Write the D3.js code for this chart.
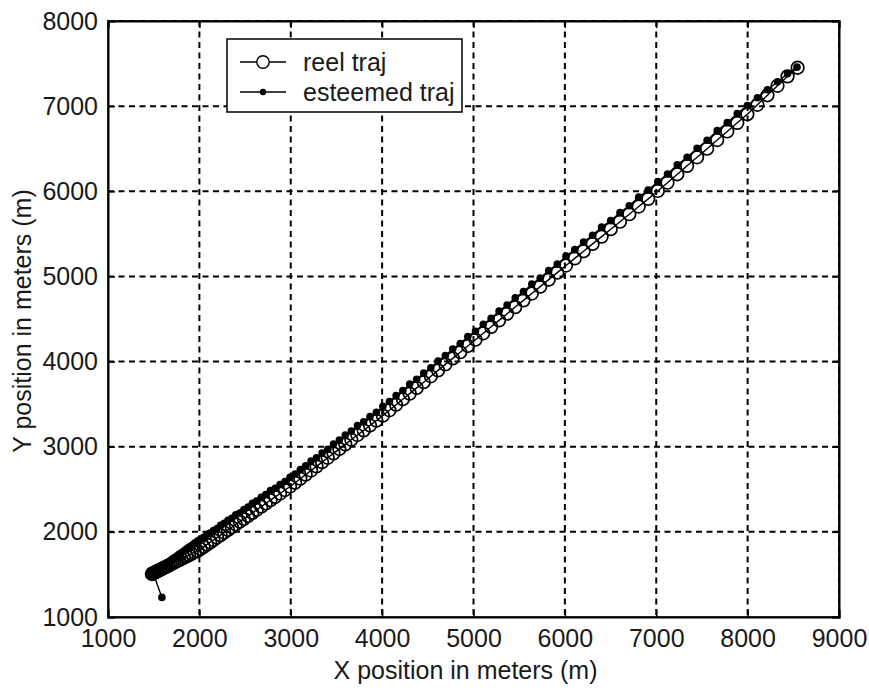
<!DOCTYPE html>
<html>
<head>
<meta charset="utf-8">
<script src="https://cdn.jsdelivr.net/npm/d3@7"></script>
<style>
  html, body { margin: 0; padding: 0; background: #fff; }
  svg { display: block; }
  text { font-family: "Liberation Sans", Arial, sans-serif; fill: #1a1a1a; }
</style>
</head>
<body>
<svg id="chart" width="869" height="691"></svg>
<script>
// Axis ticks
const xTicks = [1000, 2000, 3000, 4000, 5000, 6000, 7000, 8000, 9000];
const yTicks = [1000, 2000, 3000, 4000, 5000, 6000, 7000, 8000];

// Real trajectory (metres)
const reelX = [1480,1488,1497,1507,1518,1530,1543,1557,1572,1588,1605,1623,1642,1662,1683,1705,1728,1752,1777,1803,1830,1858,1887,1917,1948,1980,
  2013,2047,2082,2118,2155,2193,2232,2272,2313,2355,2398,2442,2487,2533,2580,2628,2677,2727,2778,2830,2883,2937,2992,
  3048,3105,3163,3222,3282,3343,3405,3468,3532,3597,3663,3730,3798,3867,3937,
  4008,4080,4153,4227,4302,4378,4455,4533,4612,4692,4773,4855,4938,
  5022,5107,5193,5280,5368,5457,5547,5638,5730,5823,5917,
  6012,6108,6205,6303,6402,6502,6603,6705,6808,6912,
  7017,7123,7230,7338,7447,7557,7667,7777,7887,7997,8107,8217,8327,8437,8547];
const reelY = [1505,1509,1514,1520,1526,1532,1540,1547,1555,1564,1574,1583,1593,1604,1616,1628,1641,1654,1667,1681,1696,1711,1727,1743,1760,1777,
  1798,1823,1850,1877,1904,1933,1962,1992,2023,2054,2087,2120,2153,2188,2223,2259,2296,2333,2372,2411,2450,2491,2532,
  2577,2624,2672,2720,2769,2819,2870,2922,2974,3028,3082,3137,3192,3249,3306,
  3365,3428,3493,3558,3624,3691,3758,3827,3897,3967,4038,4110,4183,
  4257,4332,4408,4484,4562,4640,4719,4799,4880,4962,5045,
  5128,5212,5296,5382,5468,5555,5643,5731,5821,5911,
  6004,6101,6200,6299,6399,6500,6602,6703,6804,6905,7016,7128,7239,7350,7451];

// Estimated trajectory (metres)
const estX = [1590,1500,1507,1518,1530,1543,1557,1572,1588,1605,1623,1642,1662,1683,1705,1728,1752,1777,1803,1830,1858,1887,1917,1948,1980,
  2013,2047,2082,2118,2155,2193,2232,2272,2313,2355,2398,2442,2487,2533,2580,2628,2677,2727,2778,2830,2883,2937,2992,
  3048,3105,3163,3222,3282,3343,3405,3468,3532,3597,3663,3730,3798,3867,3937,
  4008,4080,4153,4227,4302,4378,4455,4533,4612,4692,4773,4855,4938,
  5022,5107,5193,5280,5368,5457,5547,5638,5730,5823,5917,
  6012,6108,6205,6303,6402,6502,6603,6705,6808,6912,
  7017,7123,7230,7338,7447,7557,7667,7777,7887,7997,8107,8217,8327,8437,8540];
const estY = [1230,1500,1526,1534,1544,1554,1565,1577,1588,1602,1615,1631,1646,1662,1680,1698,1716,1735,1755,1776,1798,1821,1843,1868,1892,
  1915,1935,1968,1985,2016,2040,2076,2101,2136,2160,2201,2222,2261,2290,2335,2362,2406,2437,2485,2512,2557,2592,2642,
  2680,2733,2775,2832,2870,2926,2970,3032,3078,3138,3185,3249,3293,3355,3405,
  3476,3531,3602,3660,3736,3791,3865,3926,4007,4070,4147,4212,4295,
  4357,4438,4507,4594,4665,4749,4821,4911,4980,5068,5144,
  5238,5315,5405,5484,5580,5655,5749,5830,5931,6014,
  6113,6203,6312,6399,6505,6599,6712,6806,6913,7007,7099,7193,7286,7380,7458];

const svg = d3.select("#chart");
const m = { left: 108, right: 839, top: 21, bottom: 617 };

const x = d3.scaleLinear().domain([1000, 9000]).range([m.left, m.right]);
const y = d3.scaleLinear().domain([1000, 8000]).range([m.bottom, m.top]);

const FS = 25;

// Frame
svg.append("rect")
  .attr("x", m.left).attr("y", m.top)
  .attr("width", m.right - m.left).attr("height", m.bottom - m.top)
  .attr("fill", "#fff").attr("stroke", "#000").attr("stroke-width", 1.5);

// Dashed grid
const grid = svg.append("g").attr("stroke", "#000").attr("stroke-width", 2)
  .attr("stroke-dasharray", "6,4.5");
grid.selectAll("line.gx").data(xTicks.slice(1)).join("line")
  .attr("x1", d => x(d)).attr("x2", d => x(d))
  .attr("y1", m.top).attr("y2", m.bottom);
grid.selectAll("line.gy").data(yTicks.slice(1)).join("line")
  .attr("x1", m.left).attr("x2", m.right)
  .attr("y1", d => y(d)).attr("y2", d => y(d));

const reel = reelX.map((v, i) => [v, reelY[i]]);
const est = estX.map((v, i) => [v, estY[i]]);
const line = d3.line().x(d => x(d[0])).y(d => y(d[1]));

// Real trajectory: line with open circles
svg.append("path").datum(reel).attr("d", line)
  .attr("fill", "none").attr("stroke", "#000").attr("stroke-width", 1.4);
svg.append("g").selectAll("circle").data(reel).join("circle")
  .attr("cx", d => x(d[0])).attr("cy", d => y(d[1])).attr("r", 6.3)
  .attr("fill", "none").attr("stroke", "#000").attr("stroke-width", 1.7);

// Estimated trajectory: line with filled dots
svg.append("path").datum(est).attr("d", line)
  .attr("fill", "none").attr("stroke", "#000").attr("stroke-width", 1.4);
svg.append("g").selectAll("circle").data(est).join("circle")
  .attr("cx", d => x(d[0])).attr("cy", d => y(d[1])).attr("r", 3.8)
  .attr("fill", "#000");

// Axes: inward ticks on all four sides
const ax = svg.append("g").attr("transform", `translate(0,${m.bottom})`)
  .call(d3.axisBottom(x).tickValues(xTicks).tickFormat(d3.format("d")).tickSize(-7).tickPadding(12));
const ay = svg.append("g").attr("transform", `translate(${m.left},0)`)
  .call(d3.axisLeft(y).tickValues(yTicks).tickFormat(d3.format("d")).tickSize(-7).tickPadding(10));
const at = svg.append("g").attr("transform", `translate(0,${m.top})`)
  .call(d3.axisTop(x).tickValues(xTicks).tickFormat("").tickSize(-7));
const ar = svg.append("g").attr("transform", `translate(${m.right},0)`)
  .call(d3.axisRight(y).tickValues(yTicks).tickFormat("").tickSize(-7));
[ax, ay, at, ar].forEach(g => {
  g.select(".domain").attr("stroke", "#000").attr("stroke-width", 2);
  g.selectAll(".tick line").attr("stroke", "#000").attr("stroke-width", 1.5);
  g.selectAll("text").attr("font-size", FS).attr("font-family", "Liberation Sans, Arial, sans-serif").attr("fill", "#1a1a1a");
});

// Axis titles
svg.append("text")
  .attr("x", (m.left + m.right) / 2 - 8).attr("y", 679)
  .attr("text-anchor", "middle").attr("font-size", FS)
  .text("X position in meters (m)");
svg.append("text")
  .attr("transform", `translate(31,${(m.top + m.bottom) / 2 + 2}) rotate(-90)`)
  .attr("text-anchor", "middle").attr("font-size", FS)
  .text("Y position in meters (m)");

// Legend
const lg = svg.append("g");
lg.append("rect").attr("x", 227).attr("y", 39).attr("width", 235).attr("height", 73)
  .attr("fill", "#fff").attr("stroke", "#000").attr("stroke-width", 1.5);
const items = [
  { label: "reel traj", type: "circle", yy: 62 },
  { label: "esteemed traj", type: "dot", yy: 92 }
];
items.forEach(it => {
  lg.append("line").attr("x1", 240).attr("x2", 286).attr("y1", it.yy).attr("y2", it.yy)
    .attr("stroke", "#000").attr("stroke-width", 1.3);
  if (it.type === "circle") {
    lg.append("circle").attr("cx", 263).attr("cy", it.yy).attr("r", 6.2)
      .attr("fill", "#fff").attr("stroke", "#000").attr("stroke-width", 1.4);
  } else {
    lg.append("circle").attr("cx", 263).attr("cy", it.yy).attr("r", 3.2).attr("fill", "#000");
  }
  lg.append("text").attr("x", 303).attr("y", it.yy).attr("dy", "0.35em")
    .attr("font-size", FS).text(it.label);
});
</script>
</body>
</html>
